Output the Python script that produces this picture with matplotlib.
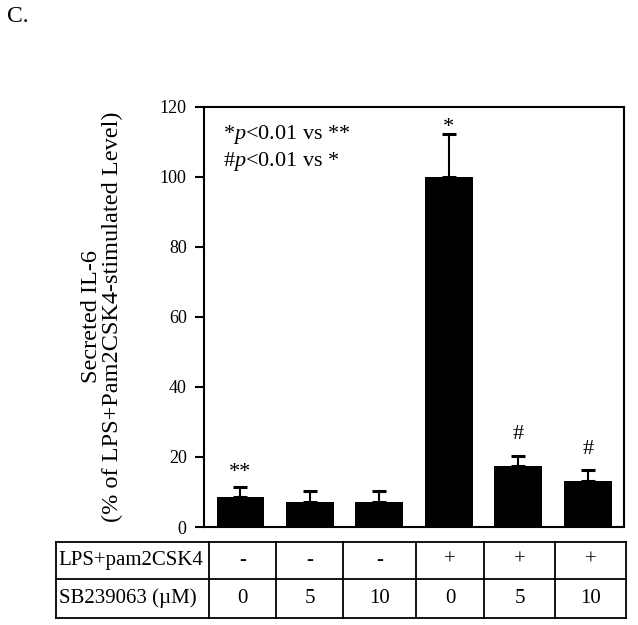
import matplotlib as mpl
import matplotlib.pyplot as plt
import numpy as np
from matplotlib.transforms import offset_copy

mpl.rcParams.update({
    "font.family": ["Liberation Serif", "DejaVu Serif"],
    "mathtext.fontset": "custom",
    "mathtext.rm": "Liberation Serif",
    "mathtext.it": "Liberation Serif:italic",
    "axes.linewidth": 1.5,
})

# ── Data ──────────────────────────────────────────────────
values = [8.5, 7.2, 7.2, 100.1, 17.4, 13.2]
errors = [2.8, 3.0, 3.0, 12.1, 3.0, 3.1]
marks = ["**", "", "", "*", "#", "#"]
lps_row = ["-", "-", "-", "+", "+", "+"]
sb_row = ["0", "5", "10", "0", "5", "10"]
row_names = ["LPS+pam2CSK4", "SB239063 (\u00b5M)"]
yticks = [0, 20, 40, 60, 80, 100, 120]

W, H = 638, 625
fig = plt.figure(figsize=(W / 100, H / 100), dpi=100, facecolor="white")

# ── Bar axes ──────────────────────────────────────────────
ax = fig.add_axes([204 / W, 1 - 527 / H, 420 / W, 420 / H])
x = np.arange(len(values))
ax.bar(x, values, 0.69, color="black", zorder=2)
ax.errorbar(x, values, yerr=[np.zeros(len(errors)), errors], fmt="none",
            ecolor="black", elinewidth=1.5, capsize=4.8, capthick=2.2, zorder=1)

# gap (in points) between the error-bar cap and the centre of each mark
mark_gap = {"**": 11, "*": 5, "#": 15}
for xi, v, e, m in zip(x, values, errors, marks):
    if m:
        tr = offset_copy(ax.transData, fig=fig, x=0, y=mark_gap[m], units="points")
        ax.text(xi, v + e, m, ha="center", va="center", fontsize=16, transform=tr)

ax.set_xlim(-0.525, 5.52)
ax.set_ylim(0, 120)
ax.set_yticks(yticks)
ax.set_xticks([])
ax.tick_params(axis="y", direction="out", length=6.5, width=1.5,
               labelsize=13, pad=6)
ax.set_ylabel("Secreted IL-6\n(% of LPS+Pam2CSK4-stimulated Level)",
              fontsize=17.5, linespacing=1.0, labelpad=26)

ax.text(0.045, 0.935, r"*$p$<0.01 vs **", transform=ax.transAxes,
        fontsize=16, va="center", ha="left")
ax.text(0.045, 0.87, r"#$p$<0.01 vs *", transform=ax.transAxes,
        fontsize=16, va="center", ha="left")

fig.text(7 / W, 1 - 16 / H, "C.", fontsize=17, va="center", ha="left")

# ── Condition table ───────────────────────────────────────
tab = fig.add_axes([0, 0, 1, 1], facecolor="none")
tab.set_xlim(0, W)
tab.set_ylim(H, 0)
tab.axis("off")

col_edges = [55.7, 209, 275.7, 343.3, 416, 484, 555.3, 626]
row_edges = [541.7, 579.3, 617.7]
lw = 1.3
for xe in col_edges:
    tab.plot([xe, xe], [row_edges[0], row_edges[-1]], color="black", lw=lw)
for ye in row_edges:
    tab.plot([col_edges[0], col_edges[-1]], [ye, ye], color="black", lw=lw)

for r, (name, cells) in enumerate(zip(row_names, [lps_row, sb_row])):
    yc = (row_edges[r] + row_edges[r + 1]) / 2
    tab.text(col_edges[0] + 3, yc, name, ha="left", va="center", fontsize=15)
    for c, s in enumerate(cells):
        xc = (col_edges[c + 1] + col_edges[c + 2]) / 2
        tab.text(xc, yc, s, ha="center", va="center", fontsize=15)

fig.savefig("out.png", dpi=100, facecolor="white")
